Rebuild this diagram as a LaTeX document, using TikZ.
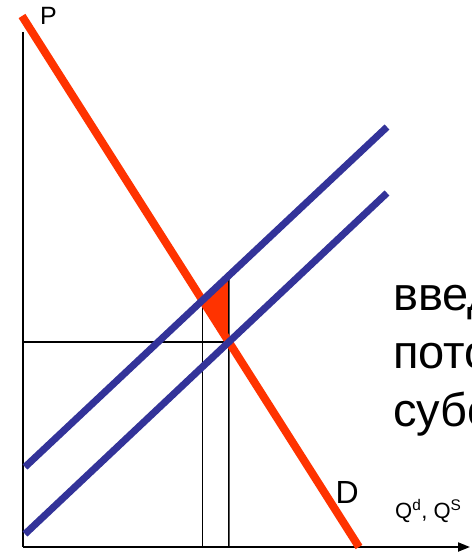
\documentclass[tikz,border=0pt]{standalone}
\usepackage{fontspec}
\setmainfont{Liberation Sans}
\usetikzlibrary{arrows.meta}
\definecolor{dred}{HTML}{FF3300}
\definecolor{sblue}{HTML}{333399}
\tikzset{
  dline/.style={draw=dred, line width=8pt},
  sline/.style={draw=sblue, line width=7pt},
  axisline/.style={draw=black, line width=2pt},
  guide/.style={draw=black, line width=1.6pt},
  lbl/.style={anchor=base west, inner sep=0pt},
  bigtxt/.style={lbl, font=\fontsize{47}{55}\selectfont},
}
\begin{document}
\begin{tikzpicture}[x=1pt,y=-1pt]
\useasboundingbox[fill=white] (0,0) rectangle (471,553);
\coordinate (O) at (23,547);
\coordinate (Ptop) at (23,32);
\coordinate (Xend) at (470,547);
\coordinate (D1) at (22,16);
\coordinate (D2) at (359,547);
\coordinate (S1a) at (25,467);
\coordinate (S1b) at (387,127);
\coordinate (S2a) at (25,534);
\coordinate (S2b) at (387,193);
\coordinate (E1) at (intersection of D1--D2 and S1a--S1b);
\coordinate (E0) at (intersection of D1--D2 and S2a--S2b);
\coordinate (E0top) at (E0 |- Ptop);
\coordinate (T) at (intersection of S1a--S1b and E0--E0top);
\coordinate (E1b) at (E1 |- O);
\coordinate (E0b) at (E0 |- O);
\coordinate (E0l) at (O |- E0);
% triangle
\fill[dred] (E1) -- (T) -- (E0) -- cycle;
% guide lines
\draw[guide] (E1) -- (E1b);
\draw[guide] (T) -- (E0b);
\draw[guide] (E0l) -- (E0);
% axes
\draw[axisline] (Ptop) -- (O);
\draw[axisline, -{Triangle[length=12pt,width=9pt]}] (O) -- (Xend);
% demand
\draw[dline] (D1) -- (D2);
% supply
\draw[sline] (S1a) -- (S1b);
\draw[sline] (S2a) -- (S2b);
% labels
\begin{scope}
\clip (0,0) rectangle (471,553);
\node[lbl, font=\fontsize{25}{30}\selectfont] (Plab) at (40,25) {P};
\node[lbl, font=\fontsize{32}{38}\selectfont] (Dlab) at (335.5,503) {D};
\node[lbl, font=\fontsize{22}{26}\selectfont] (Qlab) at (395,518) {Q\textsuperscript{d}, Q\textsuperscript{S}};
\node[bigtxt] (t1) at (393,310) {введение};
\node[bigtxt] (t2) at (393,368) {потоварной};
\node[bigtxt] (t3) at (393,426) {субсидии};
\end{scope}
\end{tikzpicture}
\end{document}
